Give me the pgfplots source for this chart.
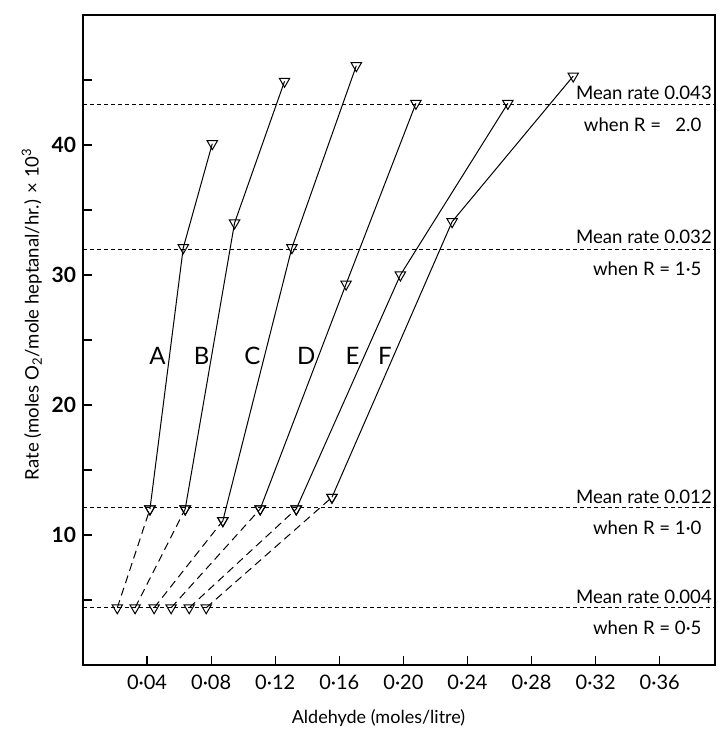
\documentclass[border=0pt]{standalone}
\usepackage{pgfplots}
\pgfplotsset{compat=1.18}
\usepackage{fontspec}
\setmainfont{Lato}
\tikzset{
  lab/.style={font=\fontsize{12}{13}\selectfont, inner sep=0.5pt},
  mr/.style={font=\fontsize{9.3}{10}\selectfont, anchor=south east, inner sep=1pt},
  wr/.style={font=\fontsize{9.3}{10}\selectfont, anchor=north east, inner sep=1pt},
}
\pgfplotsset{
  curve/.style={black, line width=0.5pt, mark=triangle, mark size=3pt,
    mark options={solid, fill=white, rotate=180, line width=0.5pt}},
  ext/.style={black, line width=0.5pt, dash pattern=on 4pt off 2.5pt, mark=triangle, mark size=3pt,
    mark options={solid, fill=white, rotate=180, line width=0.5pt}},
}
\begin{document}
\begin{tikzpicture}
\begin{axis}[
  scale only axis,
  width=316pt, height=325pt,
  xmin=0, xmax=0.3945, ymin=0, ymax=50,
  axis line style={line width=0.7pt},
  tick align=inside,
  major tick length=4.5pt,
  tick style={line width=0.6pt, black},
  xtick pos=bottom, ytick pos=left,
  xtick={0.04,0.08,0.12,0.16,0.20,0.24,0.28,0.32,0.36},
  xticklabels={0·04,0·08,0·12,0·16,0·20,0·24,0·28,0·32,0·36},
  ytick={5,10,15,20,25,30,35,40,45},
  yticklabels={,10,,20,,30,,40,},
  /pgf/number format/assume math mode=true,
  xticklabel style={font=\fontsize{10}{11}\selectfont, yshift=-1.5pt},
  yticklabel style={font=\fontsize{10.5}{11}\selectfont\bfseries},
  xlabel={Aldehyde (moles/litre)},
  ylabel={Rate (moles O\textsubscript{2}/mole heptanal/hr.) × 10\textsuperscript{3}},
  xlabel style={font=\fontsize{9}{10}\selectfont, at={(axis description cs:0.4676,-0.0815)}, anchor=center},
  ylabel style={font=\fontsize{9.3}{10}\selectfont, at={(axis description cs:-0.081,0.54)}, anchor=center},
  clip=false,
]
% horizontal mean-rate lines
\addplot[black, line width=0.45pt, dash pattern=on 2pt off 1.5pt] coordinates {(0,43.1) (0.3945,43.1)};
\addplot[black, line width=0.45pt, dash pattern=on 2pt off 1.5pt] coordinates {(0,32.0) (0.3945,32.0)};
\addplot[black, line width=0.45pt, dash pattern=on 2pt off 1.5pt] coordinates {(0,12.1) (0.3945,12.1)};
\addplot[black, line width=0.45pt, dash pattern=on 2pt off 1.5pt] coordinates {(0,4.45) (0.3945,4.45)};

% dashed extrapolations
\addplot[ext] coordinates {(0.0214,4.4) (0.0418,12.0)};
\addplot[ext] coordinates {(0.0325,4.4) (0.0638,12.0)};
\addplot[ext] coordinates {(0.0444,4.4) (0.0873,11.1)};
\addplot[ext] coordinates {(0.0550,4.4) (0.1106,12.0)};
\addplot[ext] coordinates {(0.0663,4.4) (0.1331,12.0)};
\addplot[ext] coordinates {(0.0769,4.4) (0.1554,12.9)};
% measured curves
\addplot[curve] coordinates {(0.0418,12.0) (0.0626,32.1) (0.0807,40.1)};
\addplot[curve] coordinates {(0.0638,12.0) (0.0946,34.0) (0.1258,44.9)};
\addplot[curve] coordinates {(0.0873,11.1) (0.1304,32.1) (0.1706,46.1)};
\addplot[curve] coordinates {(0.1106,12.0) (0.1642,29.3) (0.2078,43.2)};
\addplot[curve] coordinates {(0.1331,12.0) (0.1981,30.0) (0.2652,43.2)};
\addplot[curve] coordinates {(0.1554,12.9) (0.2304,34.1) (0.3060,45.3)};

\node[lab] at (axis cs:0.0465,23.8) {A};
\node[lab] at (axis cs:0.0740,23.8) {B};
\node[lab] at (axis cs:0.1058,23.8) {C};
\node[lab] at (axis cs:0.1393,23.8) {D};
\node[lab] at (axis cs:0.1683,23.8) {E};
\node[lab] at (axis cs:0.1884,23.8) {F};

\node[mr] at (axis cs:0.3940,43.3) {Mean rate 0.043};
\node[wr] at (axis cs:0.3875,42.3) {when R = \ \ 2.0};
\node[mr] at (axis cs:0.3940,32.2) {Mean rate 0.032};
\node[wr] at (axis cs:0.3875,31.2) {when R = 1·5};
\node[mr] at (axis cs:0.3940,12.2) {Mean rate 0.012};
\node[wr] at (axis cs:0.3875,11.3) {when R = 1·0};
\node[mr] at (axis cs:0.3940,4.55) {Mean rate 0.004};
\node[wr] at (axis cs:0.3875,3.6) {when R = 0·5};
\end{axis}
\pgfresetboundingbox
\path[use as bounding box] ([xshift=-41.5pt,yshift=-33pt]current axis.south west) rectangle ([xshift=3pt,yshift=7.5pt]current axis.north east);
\end{tikzpicture}
\end{document}
